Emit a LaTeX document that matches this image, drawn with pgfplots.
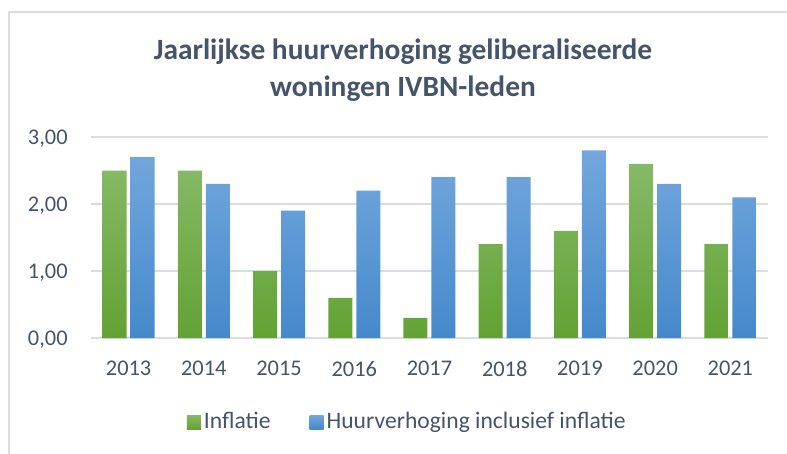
\documentclass[border=0pt]{standalone}
\usepackage{pgfplots}
\pgfplotsset{compat=1.18}
\usepackage{fontspec}
\setmainfont{Carlito}
\definecolor{textc}{HTML}{44546A}
\definecolor{gridc}{HTML}{D9DDE2}
\definecolor{gtop}{HTML}{86B966}
\definecolor{gbot}{HTML}{62A234}
\definecolor{btop}{HTML}{73A7DD}
\definecolor{bbot}{HTML}{4589CB}
\begin{document}
\begin{tikzpicture}
\path[use as bounding box] (0,0) rectangle (393.5pt,-227pt);
\draw[gridc, line width=0.8pt] (4.5pt,-227pt) -- (4.5pt,-6pt) -- (393.5pt,-6pt);
\node[anchor=base, text=textc, font=\fontsize{14.7}{17}\selectfont\bfseries] at (201.5pt,-30pt) {Jaarlijkse huurverhoging geliberaliseerde};
\node[anchor=base, text=textc, font=\fontsize{14.7}{17}\selectfont\bfseries] at (201.5pt,-48.5pt) {woningen IVBN-leden};
\begin{axis}[
  at={(45.5pt,-169pt)}, anchor=south west,
  scale only axis, width=338.5pt, height=100.5pt,
  ymin=0, ymax=3, xmin=-0.5, xmax=8.5,
  ytick={0,1,2,3}, xtick=data,
  xticklabels={2013,2014,2015,2016,2017,2018,2019,2020,2021},
  ymajorgrids, grid style={gridc, line width=0.8pt},
  axis line style={draw=none},
  major tick length=0pt,
  tick style={draw=none},
  /pgf/number format/assume math mode=true,
  yticklabel={\pgfmathprintnumber[fixed,fixed zerofill,precision=2,use comma]{\tick}},
  ticklabel style={text=textc, font=\fontsize{11.2}{13}\selectfont},
  yticklabel style={anchor=base east, inner sep=0pt, xshift=-11.5pt, yshift=-3.5pt},
  xticklabel style={anchor=north, inner sep=0pt, yshift=-11.5pt},
  ybar=2pt, bar width=12pt,
  every axis plot post/.append style={legend image code/.code={\path[##1,draw=none] (0pt,-3.5pt) rectangle (7pt,3.5pt);}},
  legend style={at={(axis description cs:0.468,-0.418)}, anchor=center, draw=none, fill=none,
    legend columns=2, font=\fontsize{11.8}{14}\selectfont, text=textc,
    /tikz/every even column/.append style={column sep=18pt},
    legend cell align=left, inner sep=0pt,
    nodes={inner sep=1.5pt}},
  clip=false,
]
\addplot[draw=none, top color=gtop, bottom color=gbot] coordinates {
 (0,2.5) (1,2.5) (2,1.0) (3,0.6) (4,0.3) (5,1.4) (6,1.6) (7,2.6) (8,1.4)};
\addplot[draw=none, top color=btop, bottom color=bbot] coordinates {
 (0,2.7) (1,2.3) (2,1.9) (3,2.2) (4,2.4) (5,2.4) (6,2.8) (7,2.3) (8,2.1)};
\legend{Inflatie, Huurverhoging inclusief inflatie}
\end{axis}
\end{tikzpicture}
\end{document}
